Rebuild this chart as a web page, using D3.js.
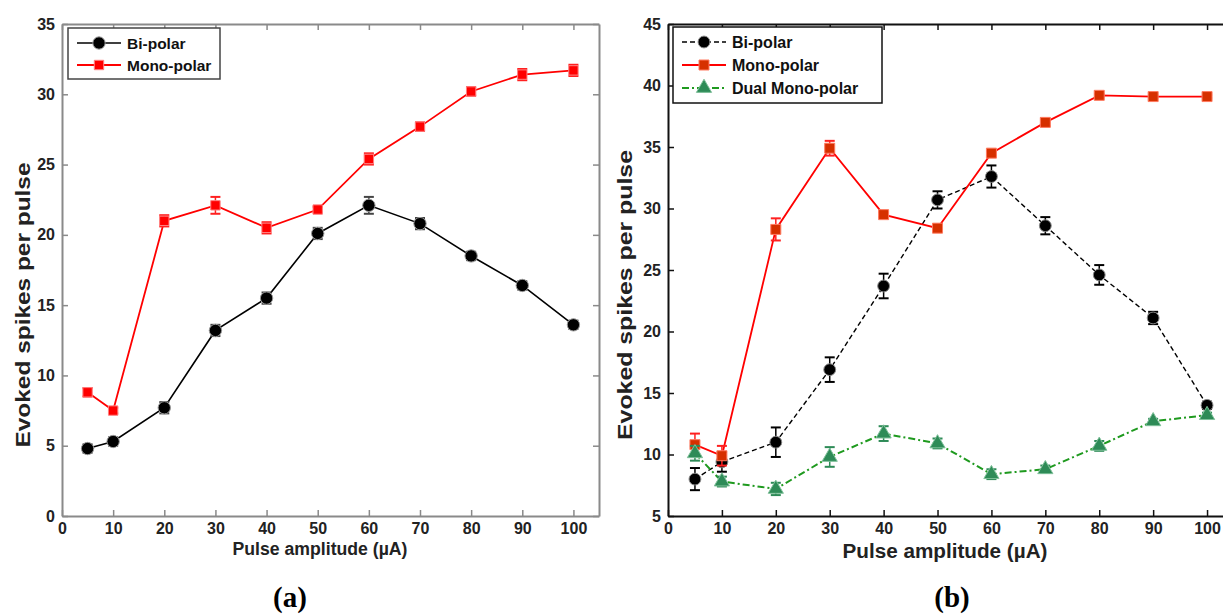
<!DOCTYPE html>
<html>
<head>
<meta charset="utf-8">
<style>
  body { margin: 0; background: #fff; }
  svg text { font-family: "Liberation Sans", Arial, sans-serif; }
</style>
</head>
<body>
<script src="https://d3js.org/d3.v7.min.js"></script>
<script>
  // x values shared by both panels
  var amps = [5, 10, 20, 30, 40, 50, 60, 70, 80, 90, 100];
  var xTicks = [0, 10, 20, 30, 40, 50, 60, 70, 80, 90, 100];

  // panel (a)
  var aBi = [4.8, 5.3, 7.7, 13.2, 15.5, 20.1, 22.1, 20.8, 18.5, 16.4, 13.6];
  var aBiErr = [0.3, 0.3, 0.4, 0.4, 0.4, 0.4, 0.6, 0.4, 0.3, 0.3, 0.3];
  var aMono = [8.8, 7.5, 21.0, 22.1, 20.5, 21.8, 25.4, 27.7, 30.2, 31.4, 31.7];
  var aMonoErr = [0.3, 0.2, 0.4, 0.6, 0.4, 0.2, 0.4, 0.3, 0.3, 0.4, 0.4];
  var aYTicks = [0, 5, 10, 15, 20, 25, 30, 35];

  // panel (b)
  var bBi = [8.0, 9.4, 11.0, 16.9, 23.7, 30.7, 32.6, 28.6, 24.6, 21.1, 14.0];
  var bBiErr = [0.9, 0.8, 1.2, 1.0, 1.0, 0.7, 0.9, 0.7, 0.8, 0.5, 0.3];
  var bMono = [10.8, 9.9, 28.3, 34.9, 29.5, 28.4, 34.5, 37.0, 39.2, 39.1, 39.1];
  var bMonoErr = [0.9, 0.8, 0.9, 0.6, 0.2, 0.3, 0.2, 0.3, 0.1, 0.1, 0.1];
  var bDual = [10.1, 7.8, 7.2, 9.8, 11.7, 10.9, 8.4, 8.8, 10.7, 12.7, 13.2];
  var bDualErr = [0.6, 0.4, 0.5, 0.8, 0.6, 0.4, 0.4, 0.3, 0.4, 0.2, 0.2];
  var bYTicks = [5, 10, 15, 20, 25, 30, 35, 40, 45];

  var svg = d3.select("body").append("svg")
    .attr("width", 1223).attr("height", 615);

  function rows(ys, errs) {
    return amps.map(function(a, i) { return {x: a, y: ys[i], e: errs[i]}; });
  }

  function panel(opt) {
    var x = d3.scaleLinear().domain([0, 105]).range([opt.left, opt.left + opt.xw]);
    var y = d3.scaleLinear().domain(opt.yDomain).range([opt.bottom, opt.top]);
    var g = svg.append("g");

    // frame with inward ticks on all four sides
    g.append("g").attr("transform", "translate(0," + opt.bottom + ")")
      .call(d3.axisBottom(x).tickValues(xTicks).tickSizeInner(-6).tickSizeOuter(0).tickPadding(7))
      .call(styleAxis, opt);
    g.append("g").attr("transform", "translate(0," + opt.top + ")")
      .call(d3.axisTop(x).tickValues(xTicks).tickSizeInner(-6).tickSizeOuter(0).tickFormat(""))
      .call(styleAxis, opt);
    g.append("g").attr("transform", "translate(" + opt.left + ",0)")
      .call(d3.axisLeft(y).tickValues(opt.yTicks).tickSizeInner(-6).tickSizeOuter(0).tickPadding(7))
      .call(styleAxis, opt);
    g.append("g").attr("transform", "translate(" + (opt.left + opt.xw) + ",0)")
      .call(d3.axisRight(y).tickValues(opt.yTicks).tickSizeInner(-6).tickSizeOuter(0).tickFormat(""))
      .call(styleAxis, opt);

    g.append("text")
      .attr("x", opt.xTitleX).attr("y", opt.xTitleY)
      .attr("text-anchor", "middle").attr("font-weight", "bold")
      .attr("font-size", opt.xTitleSize).attr("fill", "#222")
      .attr("textLength", opt.xTitleLen).attr("lengthAdjust", "spacingAndGlyphs")
      .text("Pulse amplitude (\u00b5A)");
    g.append("text")
      .attr("transform", "translate(" + opt.yTitleX + "," + opt.yTitleY + ") rotate(-90)")
      .attr("text-anchor", "middle").attr("font-weight", "bold")
      .attr("font-size", opt.yTitleSize).attr("fill", "#222")
      .attr("textLength", opt.yTitleLen).attr("lengthAdjust", "spacingAndGlyphs")
      .text("Evoked spikes per pulse");

    var line = d3.line().x(function(d) { return x(d.x); }).y(function(d) { return y(d.y); });

    opt.series.forEach(function(s) {
      var d = rows(s.values, s.errs);
      var sg = g.append("g");
      sg.append("path").datum(d)
        .attr("d", line).attr("fill", "none")
        .attr("stroke", s.line).attr("stroke-width", s.width)
        .attr("stroke-dasharray", s.dash);
      // error bars
      var eb = sg.selectAll(".eb").data(d).enter().append("g");
      eb.append("line")
        .attr("x1", function(p) { return x(p.x); }).attr("x2", function(p) { return x(p.x); })
        .attr("y1", function(p) { return y(p.y - p.e); }).attr("y2", function(p) { return y(p.y + p.e); })
        .attr("stroke", s.err).attr("stroke-width", 1.5);
      [-1, 1].forEach(function(sign) {
        eb.append("line")
          .attr("x1", function(p) { return x(p.x) - 5; }).attr("x2", function(p) { return x(p.x) + 5; })
          .attr("y1", function(p) { return y(p.y + sign * p.e); })
          .attr("y2", function(p) { return y(p.y + sign * p.e); })
          .attr("stroke", s.err).attr("stroke-width", 2);
      });
      sg.selectAll(".mk").data(d).enter().append("path")
        .attr("transform", function(p) { return "translate(" + x(p.x) + "," + y(p.y) + ")"; })
        .attr("d", d3.symbol().type(s.symbol).size(s.size))
        .attr("fill", s.fill).attr("stroke", s.stroke).attr("stroke-width", 1);
    });

    // legend
    var lg = g.append("g");
    lg.append("rect")
      .attr("x", opt.legend.x).attr("y", opt.legend.y)
      .attr("width", opt.legend.w).attr("height", opt.legend.h)
      .attr("fill", "#fff").attr("stroke", opt.legend.stroke).attr("stroke-width", 1.5);
    opt.series.forEach(function(s, i) {
      var ly = opt.legend.y + opt.legend.row0 + i * opt.legend.step;
      var lx = opt.legend.x + 9;
      lg.append("line").attr("x1", lx).attr("x2", lx + 44).attr("y1", ly).attr("y2", ly)
        .attr("stroke", s.line).attr("stroke-width", s.width).attr("stroke-dasharray", s.dash);
      lg.append("path").attr("transform", "translate(" + (lx + 22) + "," + ly + ")")
        .attr("d", d3.symbol().type(s.symbol).size(s.size))
        .attr("fill", s.fill).attr("stroke", s.stroke);
      lg.append("text").attr("x", lx + 50).attr("y", ly + 6)
        .attr("font-weight", "bold").attr("font-size", opt.legend.font).attr("fill", "#111")
        .text(s.name);
    });

    svg.append("text")
      .attr("x", opt.tagX).attr("y", 607)
      .attr("text-anchor", "middle")
      .style("font-family", "'Liberation Serif', 'Times New Roman', serif")
      .attr("font-weight", "bold").attr("font-size", 29)
      .text(opt.tag);
  }

  function styleAxis(sel, opt) {
    sel.select(".domain").attr("stroke", opt.frame).attr("stroke-width", 2);
    sel.selectAll(".tick line").attr("stroke", opt.frame).attr("stroke-width", 1.5);
    sel.selectAll(".tick text")
      .attr("font-weight", "bold").attr("font-size", opt.tickSize).attr("fill", "#222");
  }

  panel({
    left: 62, xw: 537, top: 24, bottom: 516,
    yDomain: [0, 35], yTicks: aYTicks,
    frame: "#8a8a8a", tickSize: 16,
    xTitleX: 320, xTitleY: 555, xTitleSize: 18, xTitleLen: 175,
    yTitleX: 30, yTitleY: 305, yTitleSize: 20, yTitleLen: 285,
    tag: "(a)", tagX: 290,
    legend: {x: 68, y: 28, w: 152, h: 51, row0: 15, step: 22, font: 15.5, stroke: "#444"},
    series: [
      {name: "Bi-polar", values: aBi, errs: aBiErr, line: "#000", width: 1.6, dash: null,
       err: "#444", symbol: d3.symbolCircle, size: 120, fill: "#000", stroke: "#999"},
      {name: "Mono-polar", values: aMono, errs: aMonoErr, line: "#ff0000", width: 1.8, dash: null,
       err: "#ff2020", symbol: d3.symbolSquare, size: 88, fill: "#ff0000", stroke: "#ff8080"}
    ]
  });

  panel({
    left: 668, xw: 566, top: 24, bottom: 516,
    yDomain: [5, 45], yTicks: bYTicks,
    frame: "#111", tickSize: 16,
    xTitleX: 945, xTitleY: 558, xTitleSize: 20, xTitleLen: 205,
    yTitleX: 632, yTitleY: 295, yTitleSize: 21, yTitleLen: 290,
    tag: "(b)", tagX: 952,
    legend: {x: 673, y: 27, w: 209, h: 76, row0: 15, step: 23, font: 16, stroke: "#111"},
    series: [
      {name: "Bi-polar", values: bBi, errs: bBiErr, line: "#000", width: 1.4, dash: "5,3",
       err: "#000", symbol: d3.symbolCircle, size: 110, fill: "#000", stroke: "#888"},
      {name: "Mono-polar", values: bMono, errs: bMonoErr, line: "#ff0000", width: 1.8, dash: null,
       err: "#ff2020", symbol: d3.symbolSquare, size: 100, fill: "#d63000", stroke: "#ff7a60"},
      {name: "Dual Mono-polar", values: bDual, errs: bDualErr, line: "#1f9a1f", width: 2, dash: "7,3,2,3",
       err: "#2e8b57", symbol: d3.symbolTriangle, size: 100, fill: "#2e8b57", stroke: "#7fc09a"}
    ]
  });
</script>
</body>
</html>
